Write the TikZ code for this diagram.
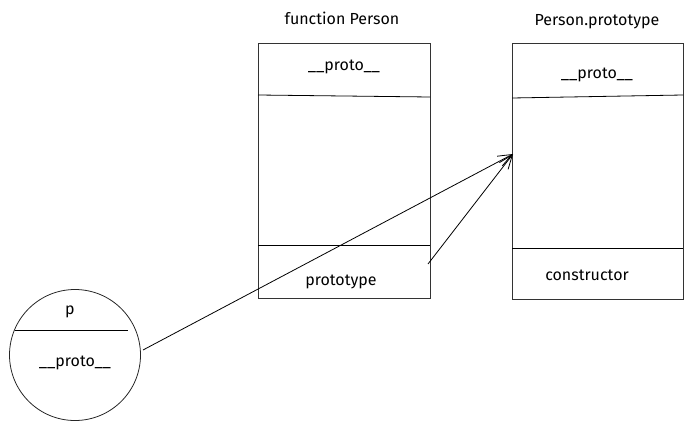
\documentclass[tikz,border=0pt]{standalone}
\usepackage{fontspec}
\setmainfont{Fira Sans}
\usetikzlibrary{arrows.meta}
\begin{document}
\begin{tikzpicture}[x=1pt,y=-1pt,
  box/.style={draw=black!80,line width=0.9pt},
  lbl/.style={font=\fontsize{16}{19}\selectfont,inner sep=1pt},
  conn/.style={line width=0.8pt,-{Straight Barb[length=14pt,width=11pt]}}]
\useasboundingbox (0,0) rectangle (695,425);
% function Person
\node[lbl] (t1) at (342,18) {function Person};
\draw[box] (258,43) rectangle (430,298);
\draw[line width=0.8pt] (258,95) -- (430,97);
\draw[line width=0.8pt] (258,245) -- (430,245);
\node[lbl] (p1) at (344,67) {\_\_proto\_\_};
\node[lbl] (pt) at (341,282) {prototype};
% Person.prototype
\node[lbl] (t2) at (597,22) {Person.prototype};
\draw[box] (512,43) rectangle (683,299);
\draw[line width=0.8pt] (512,98) -- (683,95);
\draw[line width=0.8pt] (512,248) -- (683,248);
\node[lbl] (p2) at (597,75) {\_\_proto\_\_};
\node[lbl] (cs) at (587,275) {constructor};
\coordinate (tgt) at (513,154);
% object p
\node[draw=black!85,line width=0.8pt,circle,minimum size=131pt,inner sep=0pt] (c) at (75,355) {};
\draw[line width=0.8pt] (15,330) -- (128,330);
\node[lbl] (pp) at (70,312) {p};
\node[lbl] (p3) at (75,363) {\_\_proto\_\_};
% connectors
\coordinate (s1) at (143,350);
\coordinate (s2) at (428,264);
\draw[conn] (s1) -- (tgt);
\draw[conn] (s2) -- (tgt);
\end{tikzpicture}
\end{document}
